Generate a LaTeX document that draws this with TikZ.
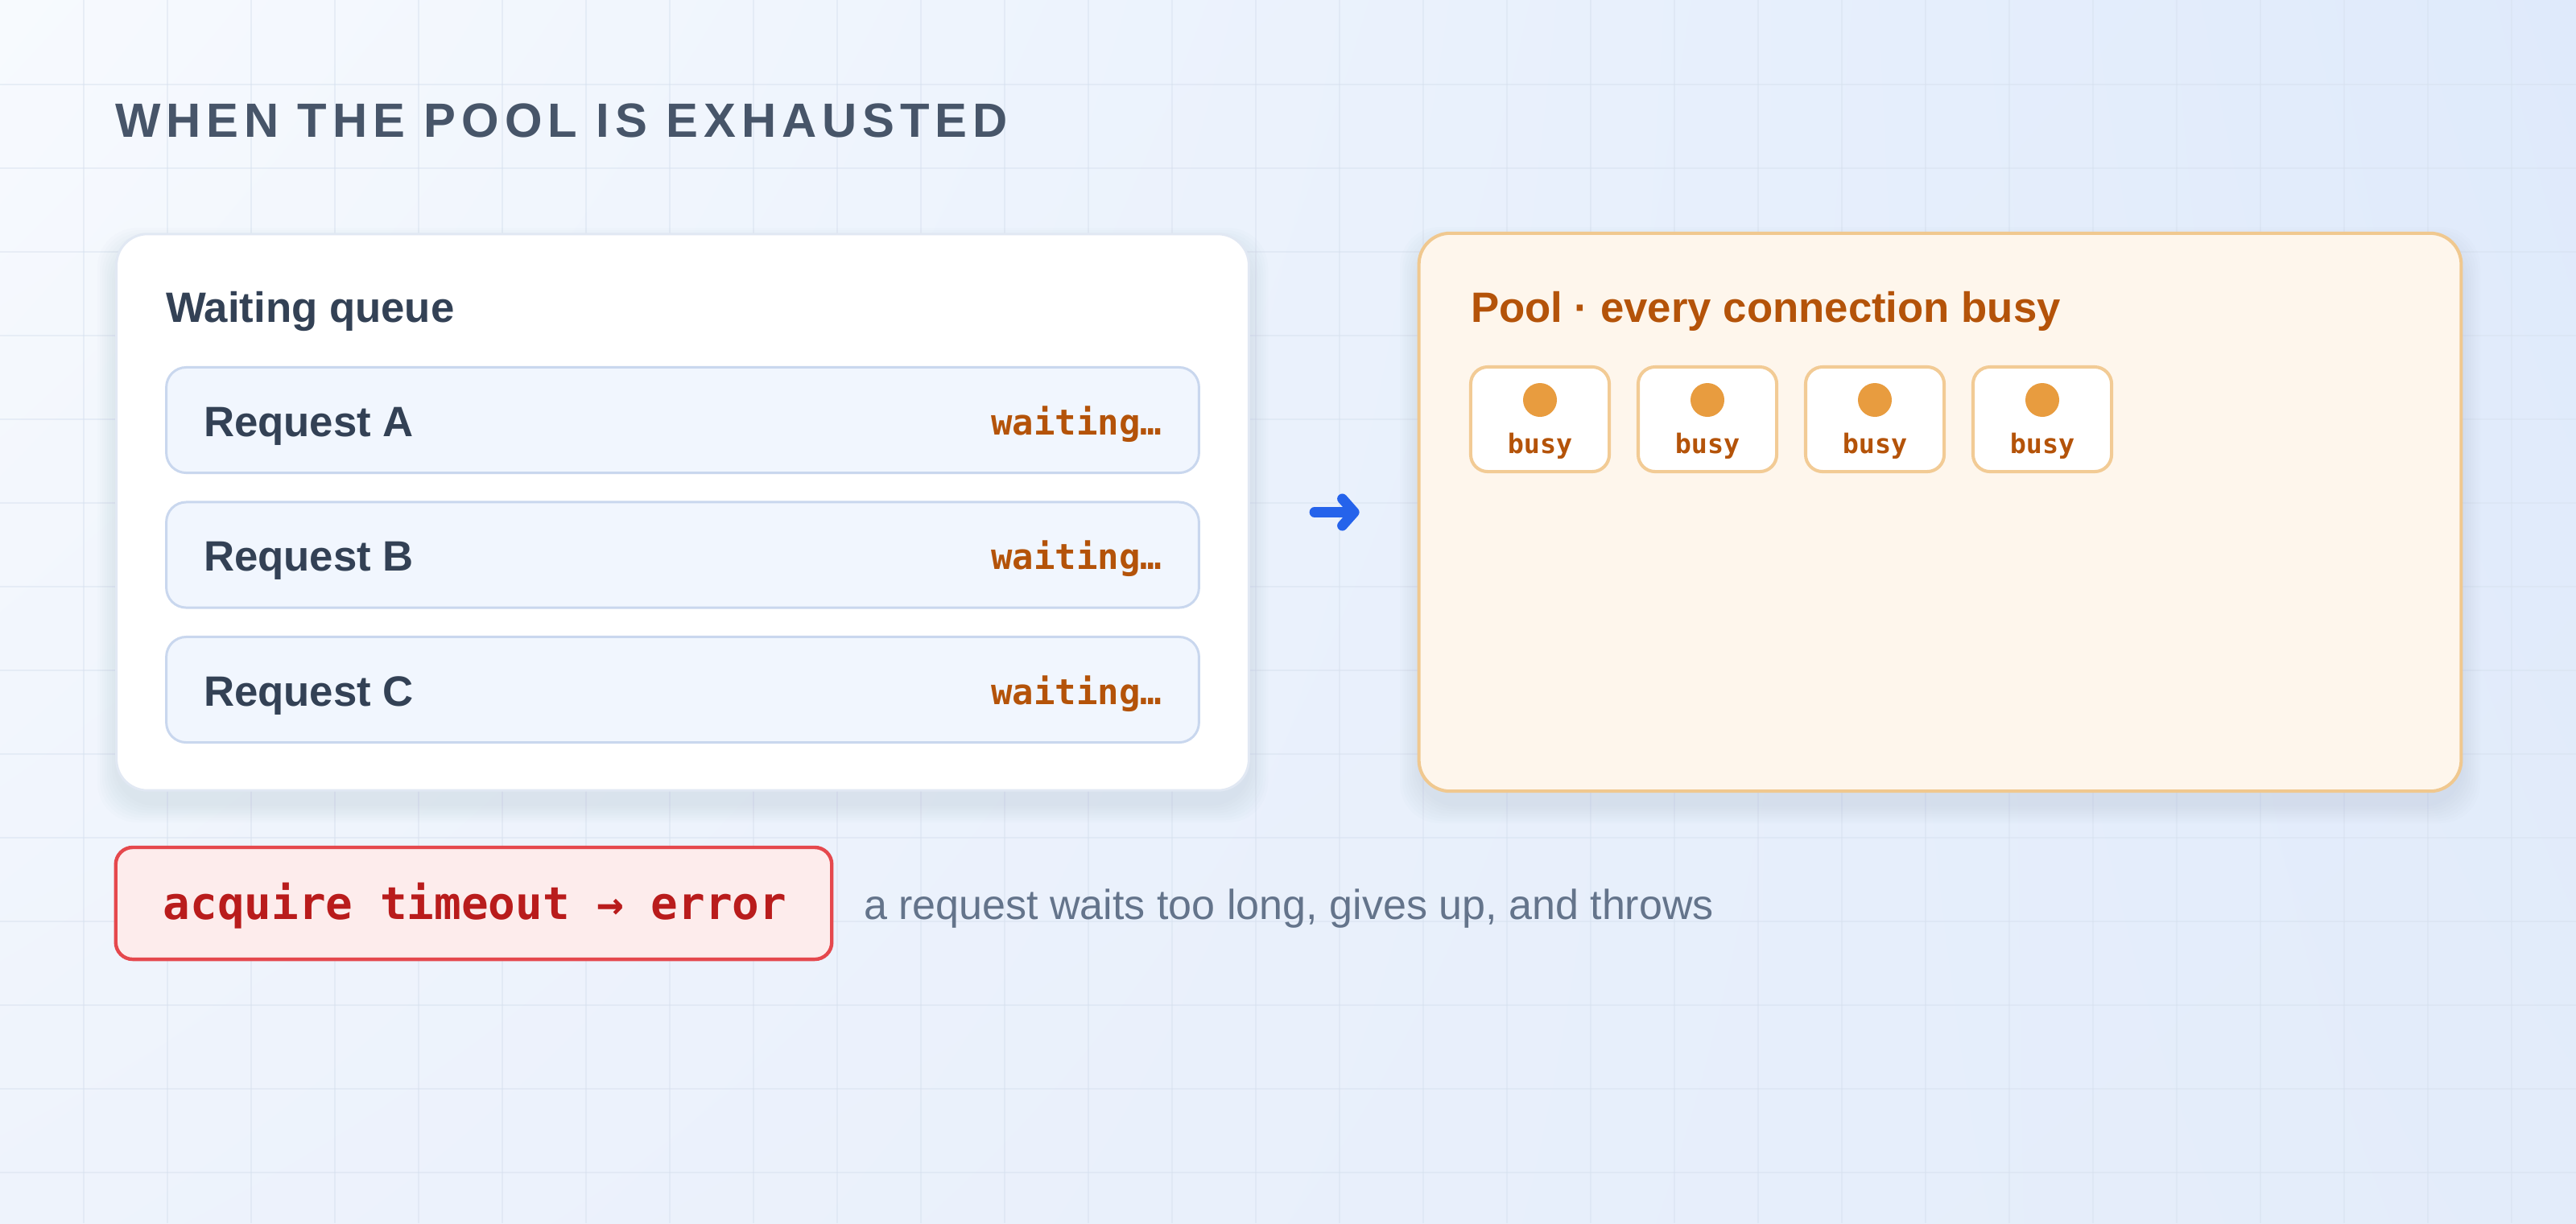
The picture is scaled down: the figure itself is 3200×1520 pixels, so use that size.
\documentclass[tikz,border=0pt]{standalone}
\usepackage{fontspec}
\setmainfont{Liberation Sans}
\setmonofont{DejaVu Sans Mono}
\newfontfamily\titlefont[LetterSpace=11.6]{Liberation Sans}
\usetikzlibrary{arrows.meta,shadings}
\definecolor{bgTL}{HTML}{F7FAFE}
\definecolor{bgTR}{HTML}{DFEAFB}
\definecolor{bgBL}{HTML}{EEF3FC}
\definecolor{bgBR}{HTML}{E3ECFA}
\definecolor{gridc}{HTML}{D6E0EE}
\definecolor{titlec}{HTML}{475569}
\definecolor{darkc}{HTML}{334155}
\definecolor{orangec}{HTML}{B45309}
\definecolor{poolfill}{HTML}{FEF6EC}
\definecolor{poolline}{HTML}{F0C88F}
\definecolor{busyline}{HTML}{F2CB95}
\definecolor{dotc}{HTML}{E89C3F}
\definecolor{rowfill}{HTML}{F1F6FE}
\definecolor{rowline}{HTML}{C9D7EE}
\definecolor{cardline}{HTML}{E1E8F3}
\definecolor{arrowc}{HTML}{2563EB}
\definecolor{errline}{HTML}{E5484D}
\definecolor{errfill}{HTML}{FDECEC}
\definecolor{errtext}{HTML}{B91C1C}
\definecolor{capc}{HTML}{64748B}
\definecolor{shadowc}{HTML}{8EA2C4}
\tikzset{
  txt/.style={inner sep=0pt, outer sep=0pt},
  headtxt/.style={txt, font=\bfseries\fontsize{15}{18}\selectfont, text=darkc},
  pooltxt/.style={txt, font=\bfseries\fontsize{15}{18}\selectfont, text=orangec},
  waittxt/.style={txt, font=\ttfamily\bfseries\fontsize{12.5}{15}\selectfont, text=orangec},
  busytxt/.style={txt, font=\ttfamily\bfseries\fontsize{9.5}{12}\selectfont, text=orangec},
  errtxt/.style={txt, font=\ttfamily\bfseries\fontsize{15.9}{19}\selectfont, text=errtext},
  captxt/.style={txt, font=\fontsize{14.8}{18}\selectfont, text=capc},
  card/.style={draw=cardline, line width=0.85pt, fill=white, rounded corners=11pt, rectangle, inner sep=0pt},
  poolcard/.style={draw=poolline, line width=1.15pt, fill=poolfill, rounded corners=11pt, rectangle, inner sep=0pt},
  rowbox/.style={draw=rowline, line width=0.85pt, fill=rowfill, rounded corners=7pt, rectangle, inner sep=0pt, minimum width=12.82cm, minimum height=1.31cm},
  busybox/.style={draw=busyline, line width=1.15pt, fill=white, rounded corners=6pt, rectangle, inner sep=0pt, minimum width=1.72cm, minimum height=1.30cm},
  dot/.style={circle, fill=dotc, inner sep=0pt, minimum size=0.42cm},
  errbox/.style={draw=errline, line width=1.25pt, fill=errfill, rounded corners=6pt, rectangle, inner sep=0pt, minimum width=8.89cm, minimum height=1.39cm},
  flow/.style={draw=arrowc, line width=3.6pt, line cap=round, -{Straight Barb[length=4.2pt, width=9.5pt, round]}},
  gridline/.style={draw=gridc, line width=0.5pt, opacity=0.45},
}
\newcommand{\softshadow}[5]{%
  \foreach \i in {1,...,8}{%
    \fill[shadowc, opacity=0.022, rounded corners=#5]
      ({#1-\i*3},{#2-\i*3+16}) rectangle ({#3+\i*3},{#4+\i*3+16});
  }%
}
\begin{document}
\begin{tikzpicture}[x=0.01cm, y=-0.01cm]
\useasboundingbox (0,0) rectangle (3200,1520);
\shade[upper left=bgTL, upper right=bgTR, lower left=bgBL, lower right=bgBR] (0,0) rectangle (3200,1520);
\foreach \x in {104,208,...,3200} \draw[gridline] (\x,0) -- (\x,1520);
\foreach \y in {105,209,...,1520} \draw[gridline] (0,\y) -- (3200,\y);

% title
\node[txt, anchor=base west, font=\titlefont\bfseries\fontsize{17}{20}\selectfont, text=titlec] (title) at (143,170) {WHEN THE POOL IS EXHAUSTED};

% shadows
\softshadow{145}{291}{1551}{982}{14pt}
\softshadow{1763}{290}{3057}{983}{14pt}

% queue card
\node[card, minimum width=14.06cm, minimum height=6.91cm] (queue) at (848,636.5) {};
\node[headtxt, anchor=base west] (qtitle) at (206,400) {Waiting queue};

\node[rowbox] (ra) at (848,522) {};
\node[headtxt, anchor=base west] (la) at (253,542) {Request A};
\node[waittxt, anchor=base east] (wa) at (1443,540) {waiting…};

\node[rowbox] (rb) at (848,689.5) {};
\node[headtxt, anchor=base west] (lb) at (253,709.5) {Request B};
\node[waittxt, anchor=base east] (wb) at (1443,707.5) {waiting…};

\node[rowbox] (rc) at (848,857) {};
\node[headtxt, anchor=base west] (lc) at (253,877) {Request C};
\node[waittxt, anchor=base east] (wc) at (1443,875) {waiting…};

% pool card
\node[poolcard, minimum width=12.94cm, minimum height=6.93cm] (pool) at (2410,636.5) {};
\node[pooltxt, anchor=base west] (ptitle) at (1827,400) {Pool · every connection busy};

\foreach \n/\x in {1/1913,2/2121,3/2329,4/2537}{
  \node[busybox] (b\n) at (\x,521) {};
  \node[dot] (d\n) at (\x,497) {};
  \node[busytxt, anchor=base] (t\n) at (\x,563) {busy};
}

% arrow
\draw[flow, shorten <=0.80cm, shorten >=0.72cm] (queue) -- (pool);

% error
\node[errbox] (err) at (588.5,1122.5) {};
\node[errtxt, anchor=base] (errt) at (590,1142) {acquire timeout → error};
\node[captxt, anchor=base west] (cap) at (1073,1142) {a request waits too long, gives up, and throws};
\end{tikzpicture}
\end{document}
